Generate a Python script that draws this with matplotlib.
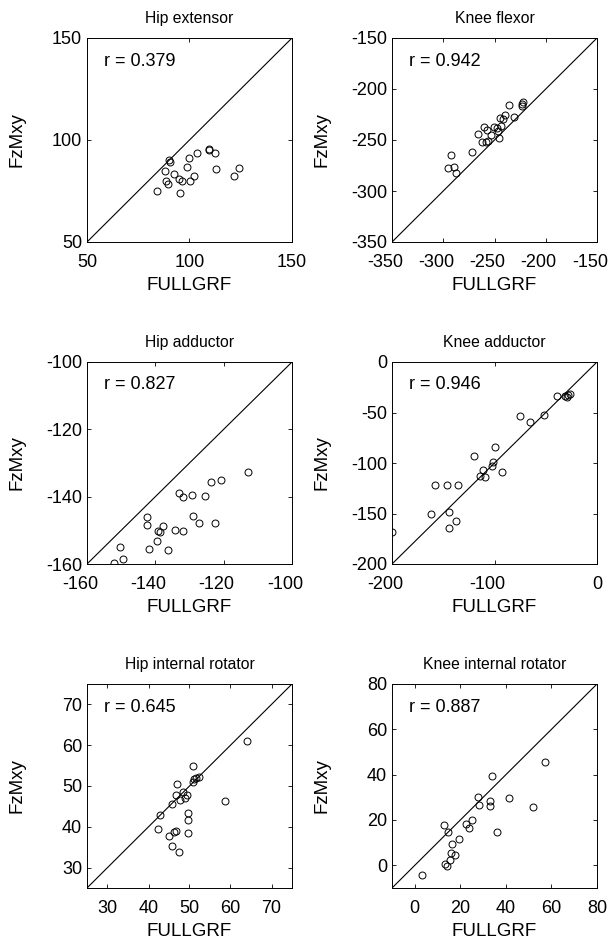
import matplotlib
matplotlib.use("Agg")
import matplotlib.pyplot as plt
from matplotlib.transforms import ScaledTranslation

plt.rcParams["font.family"] = ["Liberation Sans", "DejaVu Sans"]
plt.rcParams["axes.unicode_minus"] = False

# Hip extensor
hip_ext_x = [84.3, 88.2, 88.5, 89.6, 90.1, 90.5, 92.4, 95.0, 96.2, 95.4, 98.9,
             99.6, 100.2, 102.2, 103.5, 109.4, 109.7, 112.5, 112.8, 121.8, 124.2]
hip_ext_y = [74.9, 84.9, 80.0, 78.4, 90.2, 89.0, 83.4, 80.7, 80.0, 74.1, 86.6,
             91.3, 79.8, 82.5, 93.4, 95.6, 95.1, 93.4, 85.7, 82.3, 86.4]

# Knee flexor
knee_flex_x = [-295.5, -292.2, -289.6, -288.0, -272.3, -265.8, -261.9, -260.3, -257.0,
               -258.0, -256.0, -253.1, -250.5, -248.0, -246.6, -245.6, -244.6, -244.0,
               -241.7, -239.7, -235.8, -230.9, -222.8, -221.8, -222.8]
knee_flex_y = [-277.5, -264.4, -276.2, -282.8, -261.8, -244.4, -252.3, -236.9, -240.2,
               -252.3, -250.7, -245.1, -236.9, -238.5, -241.1, -247.7, -228.7, -236.2,
               -229.3, -225.4, -215.9, -227.0, -214.6, -212.6, -216.6]

# Hip adductor
hip_add_x = [-152.2, -150.4, -149.4, -142.3, -142.3, -141.9, -139.6, -139.2, -138.5,
             -137.9, -136.3, -134.1, -133.0, -132.0, -131.8, -129.2, -128.9, -127.1,
             -125.5, -123.6, -122.5, -120.9, -113.0]
hip_add_y = [-159.7, -154.9, -158.6, -146.1, -148.3, -155.6, -153.1, -150.1, -150.4,
             -148.6, -155.8, -149.9, -139.0, -150.1, -140.0, -139.5, -145.6, -147.9,
             -139.8, -135.7, -147.9, -135.0, -132.6]

# Knee adductor
knee_add_x = [-200.0, -161.8, -157.6, -146.2, -135.7, -144.2, -144.5, -137.7, -120.1,
              -114.2, -111.6, -109.6, -102.8, -101.1, -99.8, -92.7, -75.0, -65.3,
              -51.6, -39.2, -31.3, -28.7, -26.8, -29.4]
knee_add_y = [-167.9, -150.7, -122.0, -122.0, -122.0, -148.8, -164.6, -157.7, -93.2,
              -113.1, -107.4, -114.0, -103.1, -99.2, -84.0, -108.8, -53.9, -59.2,
              -52.9, -33.4, -34.1, -33.1, -31.4, -34.7]

# Hip internal rotator
hip_rot_x = [42.3, 42.7, 45.0, 45.7, 46.1, 46.7, 45.7, 46.7, 46.9, 47.5, 47.6, 48.4,
             48.9, 49.3, 49.7, 49.7, 49.7, 50.8, 50.9, 51.2, 51.5, 52.2, 58.7, 64.1]
hip_rot_y = [39.5, 42.8, 37.8, 35.4, 38.7, 39.0, 45.5, 47.7, 50.4, 33.8, 46.5, 48.6,
             47.1, 47.7, 43.3, 41.6, 38.4, 55.0, 51.0, 51.6, 52.0, 52.1, 46.4, 61.0]

# Knee internal rotator
knee_rot_x = [3.2, 12.7, 13.3, 14.2, 14.8, 15.7, 15.4, 16.2, 17.6, 19.6, 22.7, 24.0,
              25.3, 27.7, 28.4, 33.1, 33.1, 34.1, 35.9, 41.3, 52.0, 57.0]
knee_rot_y = [-4.1, 18.0, 0.8, -0.4, 14.7, 5.5, 2.5, 9.6, 4.7, 11.5, 18.1, 16.5,
              19.9, 30.2, 26.8, 28.3, 26.1, 39.2, 14.7, 29.5, 25.8, 45.5]

titles = ["Hip extensor", "Knee flexor", "Hip adductor", "Knee adductor",
          "Hip internal rotator", "Knee internal rotator"]
r_values = ["0.379", "0.942", "0.827", "0.946", "0.645", "0.887"]
limits = [(50, 150), (-350, -150), (-160, -100), (-200, 0), (25, 75), (-10, 80)]
xticks = [
    [50, 100, 150],
    [-350, -300, -250, -200, -150],
    [-160, -140, -120, -100],
    [-200, -100, 0],
    [30, 40, 50, 60, 70],
    [0, 20, 40, 60, 80],
]
yticks = [
    [50, 100, 150],
    [-350, -300, -250, -200, -150],
    [-160, -140, -120, -100],
    [-200, -150, -100, -50, 0],
    [30, 40, 50, 60, 70],
    [0, 20, 40, 60, 80],
]
xs = [hip_ext_x, knee_flex_x, hip_add_x, knee_add_x, hip_rot_x, knee_rot_x]
ys = [hip_ext_y, knee_flex_y, hip_add_y, knee_add_y, hip_rot_y, knee_rot_y]

W, H = 613, 941
lefts = [87, 392]
tops = [38, 362, 684]
heights = [204, 202, 204]
aw = 205

fig = plt.figure(figsize=(W / 100, H / 100), dpi=100)

for i in range(6):
    row, col = divmod(i, 2)
    ah = heights[row]
    l = lefts[col] / W
    b = 1 - (tops[row] + ah) / H
    ax = fig.add_axes([l, b, aw / W, ah / H])
    lo, hi = limits[i]
    ax.plot([lo, hi], [lo, hi], color="black", lw=0.8)
    ax.plot(xs[i], ys[i], "o", mfc="none", mec="black", ms=5, mew=0.7)
    ax.set_xlim(lo, hi)
    ax.set_ylim(lo, hi)
    ax.set_xticks(xticks[i])
    ax.set_yticks(yticks[i])
    ax.tick_params(direction="in", top=True, right=True, length=3, width=0.6,
                   labelsize=13)
    ax.tick_params(axis="x", pad=8.5)
    ax.tick_params(axis="y", pad=3.5)
    # negative labels sit a little left of their ticks, as in the source
    for t, v in zip(ax.get_xticklabels(), xticks[i]):
        if v < 0:
            t.set_transform(t.get_transform() +
                            ScaledTranslation(-5 / 72, 0, fig.dpi_scale_trans))
    for s in ax.spines.values():
        s.set_linewidth(0.7)
    ax.set_title(titles[i], fontsize=11.3, pad=11)
    ax.set_xlabel("FULLGRF", fontsize=13.5, labelpad=4.3)
    ax.set_ylabel("FzMxy", fontsize=13.5)
    ax.yaxis.set_label_coords(-0.30, 0.5)
    ax.text(0.083, 0.864, "r = " + r_values[i], transform=ax.transAxes,
            fontsize=13, va="baseline", ha="left")

fig.savefig("out.png", dpi=100)
